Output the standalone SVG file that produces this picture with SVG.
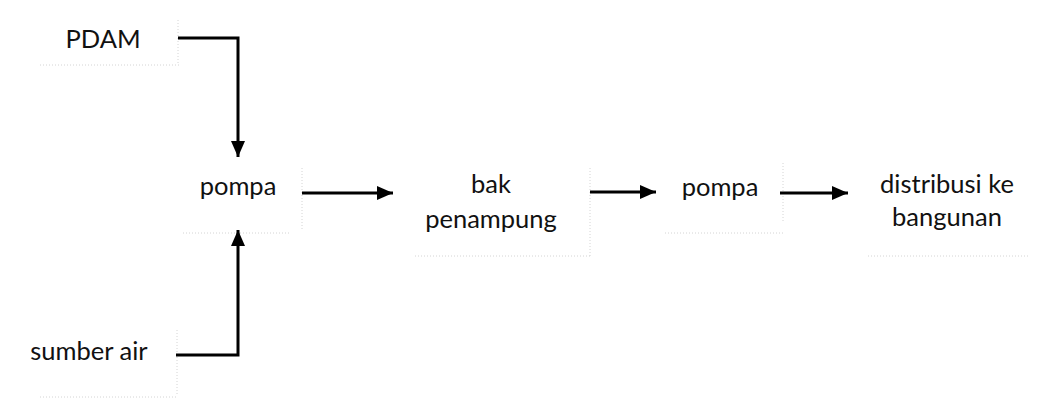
<svg xmlns="http://www.w3.org/2000/svg" width="1040" height="399" viewBox="0 0 1040 399">
<style>
text{font-family:Lato,"Noto Sans",sans-serif;font-size:25.5px;fill:#111;text-anchor:middle}
.edge{stroke:#d4d4d4;stroke-width:1;stroke-dasharray:1 2;fill:none}
.con{stroke:#000;stroke-width:3;fill:none}
</style>
<defs>
<marker id="ah" markerWidth="16" markerHeight="14" refX="16" refY="7" orient="auto" markerUnits="userSpaceOnUse">
<path d="M0,0 L16,7 L0,14 Z" fill="#000"/>
</marker>
</defs>
<rect width="1040" height="399" fill="#fff"/>
<g id="pdam">
<path class="edge" d="M178,20 V65 M40,65 H180"/>
<text x="103" y="48">PDAM</text>
</g>
<g id="pompa1">
<path class="edge" d="M302,168 V230 M183,233 H290"/>
<text x="238" y="195">pompa</text>
</g>
<g id="sumber">
<path class="edge" d="M177,330 V396 M40,397 H178"/>
<text x="89" y="360">sumber air</text>
</g>
<g id="bak">
<path class="edge" d="M590,168 V256 M415,256 H590"/>
<text x="491" y="193">bak</text>
<text x="491" y="228">penampung</text>
</g>
<g id="pompa2">
<path class="edge" d="M783,163 V223 M665,233 H785"/>
<text x="720" y="196">pompa</text>
</g>
<g id="distribusi">
<path class="edge" d="M868,256 H1028"/>
<text x="947" y="193">distribusi ke</text>
<text x="947" y="226">bangunan</text>
</g>
<g id="connectors">
<path class="con" d="M178,38 H238 V157" marker-end="url(#ah)"/>
<path class="con" d="M176,355 H238 V230" marker-end="url(#ah)"/>
<path class="con" d="M302,193 H393" marker-end="url(#ah)"/>
<path class="con" d="M590,192 H656" marker-end="url(#ah)"/>
<path class="con" d="M780,193 H848" marker-end="url(#ah)"/>
</g>
</svg>
